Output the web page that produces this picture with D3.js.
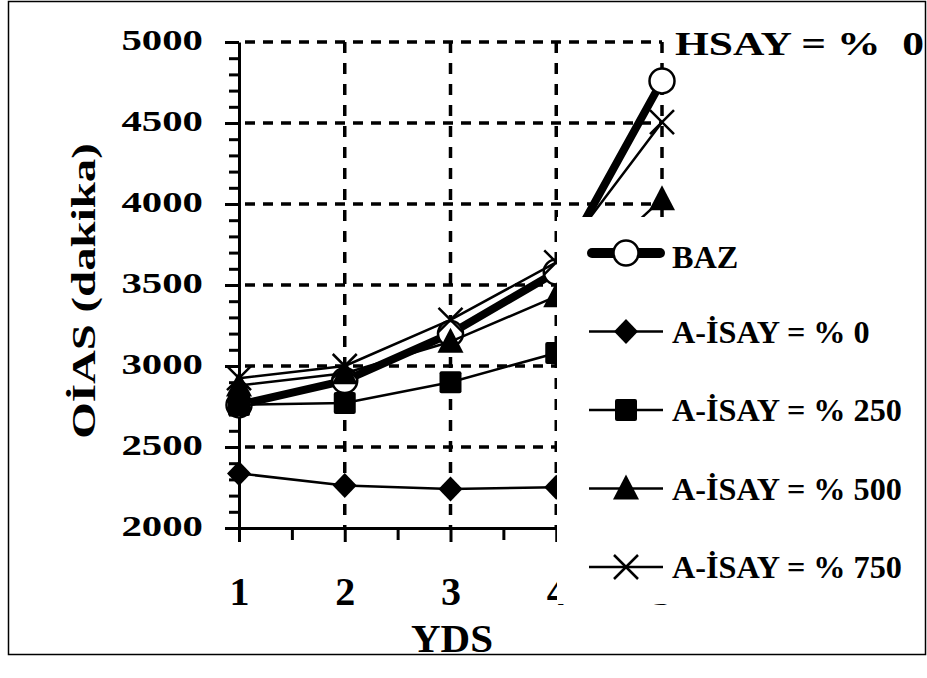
<!DOCTYPE html>
<html>
<head>
<meta charset="utf-8">
<script src="https://cdn.jsdelivr.net/npm/d3@7"></script>
<style>
  body { margin: 0; background: #fff; }
  svg text { font-family: "Liberation Serif", "Times New Roman", serif; font-weight: bold; fill: #000; }
</style>
</head>
<body>
<svg id="chart"></svg>
<script>
// data
const years = [1, 2, 3, 4, 5];
const seriesNames = ["BAZ", "A-İSAY = % 0", "A-İSAY = % 250", "A-İSAY = % 500", "A-İSAY = % 750"];
const baz = [2760, 2910, 3200, 3580, 4760];
const isay0 = [2337, 2262, 2240, 2252, 2270];
const isay250 = [2760, 2772, 2900, 3080, 3300];
const isay500 = [2880, 2955, 3150, 3430, 4030];
const isay750 = [2925, 3000, 3285, 3640, 4505];
const yTicks = [2000, 2500, 3000, 3500, 4000, 4500, 5000];
const titleText = "HSAY = %  0";
const xTitle = "YDS";
const yTitle = "OİAS (dakika)";

const width = 927, height = 678;

const series = [
    { name: seriesNames[0], values: baz, marker: "circle", lw: 8 },
    { name: seriesNames[1], values: isay0, marker: "diamond", lw: 2.5 },
    { name: seriesNames[2], values: isay250, marker: "square", lw: 2.5 },
    { name: seriesNames[3], values: isay500, marker: "triangle", lw: 2.5 },
    { name: seriesNames[4], values: isay750, marker: "x", lw: 2.5 }
];

const svg = d3.select("#chart")
    .attr("width", width)
    .attr("height", height);

const x = d3.scaleLinear().domain([1, 5]).range([239, 662]);
const y = d3.scaleLinear().domain([2000, 5000]).range([528, 42]);

// dashed grid
const grid = svg.append("g")
    .attr("stroke", "#000")
    .attr("stroke-width", 3.5);

grid.selectAll("line.h")
    .data(yTicks.slice(1))
    .join("line")
    .attr("x1", x(1)).attr("x2", x(5))
    .attr("y1", d => y(d)).attr("y2", d => y(d))
    .attr("stroke-dasharray", "10,8")
    .attr("stroke-dashoffset", -6);

grid.selectAll("line.v")
    .data(years.slice(1))
    .join("line")
    .attr("x1", d => x(d)).attr("x2", d => x(d))
    .attr("y1", y(5000)).attr("y2", y(2000))
    .attr("stroke-dasharray", "11,10");

// axes
const yAxis = svg.append("g")
    .attr("transform", `translate(${x(1)},0)`)
    .call(d3.axisLeft(y).tickValues(yTicks).tickSize(14).tickSizeOuter(0).tickFormat(d3.format("d")));

const yMinor = svg.append("g")
    .attr("transform", `translate(${x(1)},0)`)
    .call(d3.axisLeft(y).tickValues(d3.range(2100, 5000, 100)).tickSize(10).tickFormat(""));
yMinor.select(".domain").remove();

const xAxis = svg.append("g")
    .attr("transform", `translate(0,${y(2000)})`)
    .call(d3.axisBottom(x).tickValues(years).tickSize(14).tickSizeOuter(0).tickFormat(d3.format("d")));

const xMinor = svg.append("g")
    .attr("transform", `translate(0,${y(2000)})`)
    .call(d3.axisBottom(x).tickValues([1.5, 2.5, 3.5, 4.5]).tickSize(12).tickFormat(""));
xMinor.select(".domain").remove();

svg.selectAll("g").attr("font-family", null);

svg.selectAll(".domain, .tick line")
    .attr("stroke", "#000")
    .attr("stroke-width", 3);

yAxis.selectAll(".tick text")
    .attr("x", 0).attr("dy", null)
    .attr("transform", "translate(-36,7) scale(1.36,1)")
    .attr("text-anchor", "end")
    .style("font-size", "30px");

xAxis.selectAll(".tick text")
    .attr("y", 77).attr("dy", null)
    .style("font-size", "40px");

// markers
function drawMarker(g, type, cx, cy) {
    if (type === "circle") {
        g.append("circle").attr("cx", cx).attr("cy", cy).attr("r", 12.5)
            .attr("fill", "#fff").attr("stroke", "#000").attr("stroke-width", 2.5);
    } else if (type === "diamond") {
        g.append("path").attr("d", `M${cx},${cy - 12.5}L${cx + 12},${cy}L${cx},${cy + 12.5}L${cx - 12},${cy}Z`)
            .attr("fill", "#000");
    } else if (type === "square") {
        g.append("rect").attr("x", cx - 11).attr("y", cy - 11).attr("width", 22).attr("height", 22)
            .attr("rx", 2).attr("fill", "#000");
    } else if (type === "triangle") {
        g.append("path").attr("d", `M${cx},${cy - 14}L${cx + 13},${cy + 11}L${cx - 13},${cy + 11}Z`)
            .attr("fill", "#000");
    } else if (type === "x") {
        g.append("path").attr("d", `M${cx - 12},${cy - 12}L${cx + 12},${cy + 12}M${cx - 12},${cy + 12}L${cx + 12},${cy - 12}`)
            .attr("stroke", "#000").attr("stroke-width", 2.5).attr("fill", "none");
    }
}

const line = d3.line()
    .x((d, i) => x(years[i]))
    .y(d => y(d));

series.forEach(s => {
    const g = svg.append("g");
    g.append("path")
        .attr("d", line(s.values))
        .attr("fill", "none")
        .attr("stroke", "#000")
        .attr("stroke-width", s.lw)
        .attr("stroke-linejoin", "round")
        .attr("stroke-linecap", "round");
    s.values.forEach((v, i) => drawMarker(g, s.marker, x(years[i]), y(v)));
});

// legend box sits over the right part of the plot
const legend = svg.append("g");
legend.append("rect")
    .attr("x", 557).attr("y", 217)
    .attr("width", 368).attr("height", 387)
    .attr("fill", "#fff");

const legendY = d3.scalePoint().domain(seriesNames).range([253, 567]);

series.forEach((s, i) => {
    const ly = legendY(s.name);
    const g = legend.append("g");
    g.append("line")
        .attr("x1", i === 0 ? 592 : 589).attr("x2", i === 0 ? 660 : 663)
        .attr("y1", ly).attr("y2", ly)
        .attr("stroke", "#000")
        .attr("stroke-width", i === 0 ? 10 : 2.5)
        .attr("stroke-linecap", i === 0 ? "round" : "butt");
    drawMarker(g, s.marker, 626, ly);
    g.append("text")
        .attr("transform", `translate(672,${ly + (i === 0 ? 15 : 11)}) scale(1.04,1)`)
        .style("font-size", "31px")
        .text(s.name);
});

// titles
svg.append("text")
    .attr("transform", "translate(675,55) scale(1.32,1)")
    .style("font-size", "33px")
    .style("white-space", "pre")
    .text(titleText);

svg.append("text")
    .attr("x", 452).attr("y", 652)
    .attr("text-anchor", "middle")
    .style("font-size", "41px")
    .text(xTitle);

svg.append("text")
    .attr("transform", "translate(95,291) rotate(-90) scale(1.42,1)")
    .attr("text-anchor", "middle")
    .style("font-size", "33px")
    .text(yTitle);

// outer frame
svg.append("rect")
    .attr("x", 8.5).attr("y", 1.5)
    .attr("width", 917).attr("height", 653)
    .attr("fill", "none")
    .attr("stroke", "#000")
    .attr("stroke-width", 1.5);
</script>
</body>
</html>
